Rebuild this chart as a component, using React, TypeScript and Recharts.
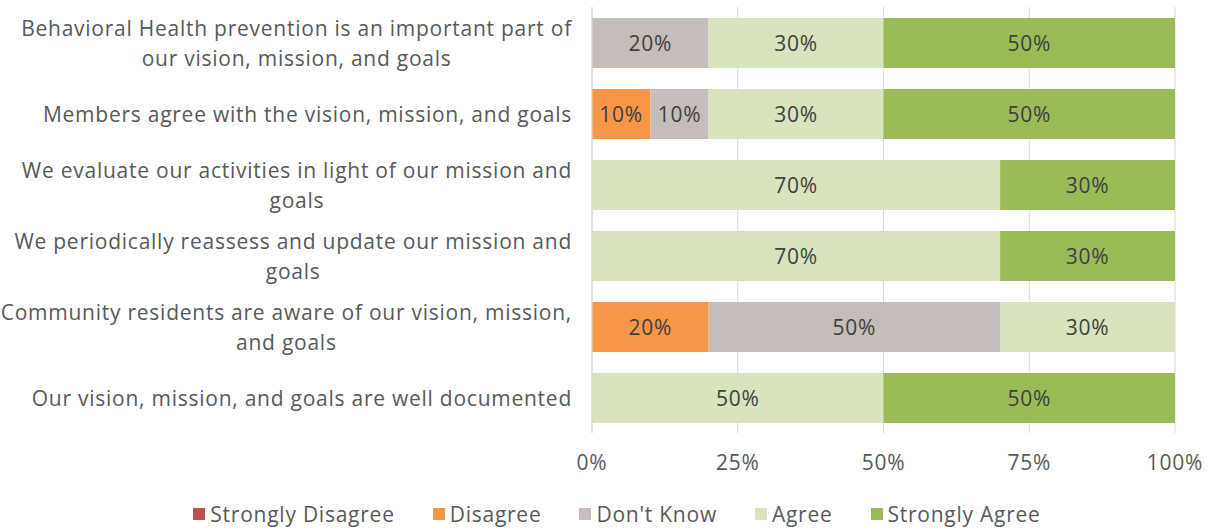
import React from "react";
import { BarChart, Bar, XAxis, YAxis, CartesianGrid, Legend, LabelList } from "recharts";

const categoryLines: string[][] = [
  ["Behavioral Health prevention is an important part of", "our vision, mission, and goals"],
  ["Members agree with the vision, mission, and goals"],
  ["We evaluate our activities in light of our mission and", "goals"],
  ["We periodically reassess and update our mission and", "goals"],
  ["Community residents are aware of our vision, mission,", "and goals"],
  ["Our vision, mission, and goals are well documented"],
];
const categories = categoryLines.map((l) => l.join(" "));
const stronglyDisagree = [0, 0, 0, 0, 0, 0];
const disagree = [0, 10, 0, 0, 20, 0];
const dontKnow = [20, 10, 0, 0, 50, 0];
const agree = [30, 30, 70, 70, 30, 50];
const stronglyAgree = [50, 50, 30, 30, 0, 50];
const xTicks = [0, 25, 50, 75, 100];

const seriesNames = ["Strongly Disagree", "Disagree", "Don't Know", "Agree", "Strongly Agree"];
const seriesKeys = ["sd", "d", "dk", "a", "sa"];
const seriesColors = ["#C0504D", "#F79646", "#C4BDB9", "#D7E4BD", "#9BBB59"];

const data = categories.map((name, i) => ({
  name,
  sd: stronglyDisagree[i],
  d: disagree[i],
  dk: dontKnow[i],
  a: agree[i],
  sa: stronglyAgree[i],
}));

const FONT = "'Open Sans', sans-serif";
const FONT_SIZE = 21;
const LS = 0.75;
const TEXT = "#595959";

const widthCache: Record<string, number> = {};
function measure(s: string): number {
  if (widthCache[s] !== undefined) return widthCache[s];
  if (typeof document === "undefined") return s.length * 11;
  const svg = document.createElementNS("http://www.w3.org/2000/svg", "svg");
  svg.setAttribute("width", "0");
  svg.setAttribute("height", "0");
  svg.style.position = "absolute";
  svg.style.left = "0";
  svg.style.top = "0";
  svg.style.visibility = "hidden";
  const t = document.createElementNS("http://www.w3.org/2000/svg", "text");
  t.setAttribute("font-family", FONT);
  t.setAttribute("font-size", String(FONT_SIZE));
  t.setAttribute("letter-spacing", String(LS));
  t.textContent = s;
  svg.appendChild(t);
  document.body.appendChild(svg);
  const w = t.getComputedTextLength();
  document.body.removeChild(svg);
  widthCache[s] = w;
  return w;
}

const CategoryTick = (props: any) => {
  const { x, y, payload } = props;
  const idx = categories.indexOf(payload.value);
  const lines = idx >= 0 ? categoryLines[idx] : [String(payload.value)];
  const right = x - 12;
  const maxW = Math.max(...lines.map(measure));
  const cx = right - maxW / 2;
  const lh = 30;
  const startY = y - ((lines.length - 1) * lh) / 2;
  return (
    <g>
      {lines.map((ln, i) => (
        <text
          key={i}
          x={cx}
          y={startY + i * lh}
          textAnchor="middle"
          dominantBaseline="central"
          fill={TEXT}
          fontSize={FONT_SIZE}
          fontFamily={FONT}
          letterSpacing={LS}
        >
          {ln}
        </text>
      ))}
    </g>
  );
};

const renderLabel = (props: any) => {
  const { x, y, width, height, value } = props;
  if (!value) return null;
  return (
    <text
      x={x + width / 2}
      y={y + height / 2}
      textAnchor="middle"
      dominantBaseline="central"
      fill="#404040"
      fontSize={FONT_SIZE}
      fontFamily={FONT}
      letterSpacing={LS}
    >
      {`${value}%`}
    </text>
  );
};

const LegendContent = () => (
  <div
    style={{
      display: "flex",
      justifyContent: "center",
      alignItems: "center",
      height: 34,
      paddingLeft: 59,
      fontFamily: FONT,
      fontSize: FONT_SIZE,
      letterSpacing: LS,
      color: TEXT,
    }}
  >
    {seriesNames.map((n, i) => (
      <div key={n} style={{ display: "flex", alignItems: "center", marginRight: i < seriesNames.length - 1 ? 38 : 0 }}>
        <span style={{ width: 12, height: 12, background: seriesColors[i], display: "inline-block", marginRight: 5 }} />
        <span>{n}</span>
      </div>
    ))}
  </div>
);

export default function App() {
  return (
    <div style={{ position: "absolute", left: 0, top: 0, width: 1212, height: 531, background: "#fff" }}>
      <BarChart
        width={1212}
        height={531}
        data={data}
        layout="vertical"
        margin={{ top: 7, right: 37, bottom: 0, left: 0 }}
        barSize={50}
      >
        <CartesianGrid horizontal={false} vertical={true} stroke="#D9D9D9" />
        <XAxis
          type="number"
          domain={[0, 100]}
          ticks={xTicks}
          tickFormatter={(v: number) => `${v}%`}
          axisLine={false}
          tickLine={false}
          height={64}
          tickMargin={16}
          tick={{ fill: TEXT, fontSize: FONT_SIZE, fontFamily: FONT, letterSpacing: LS }}
        />
        <YAxis
          type="category"
          dataKey="name"
          width={592}
          axisLine={{ stroke: "#D9D9D9" }}
          tickLine={false}
          tick={<CategoryTick />}
          interval={0}
        />
        <Legend verticalAlign="bottom" content={<LegendContent />} wrapperStyle={{ height: 34 }} />
        {seriesKeys.map((k, i) => (
          <Bar key={k} dataKey={k} name={seriesNames[i]} stackId="s" fill={seriesColors[i]} isAnimationActive={false}>
            <LabelList dataKey={k} content={renderLabel} />
          </Bar>
        ))}
      </BarChart>
    </div>
  );
}
